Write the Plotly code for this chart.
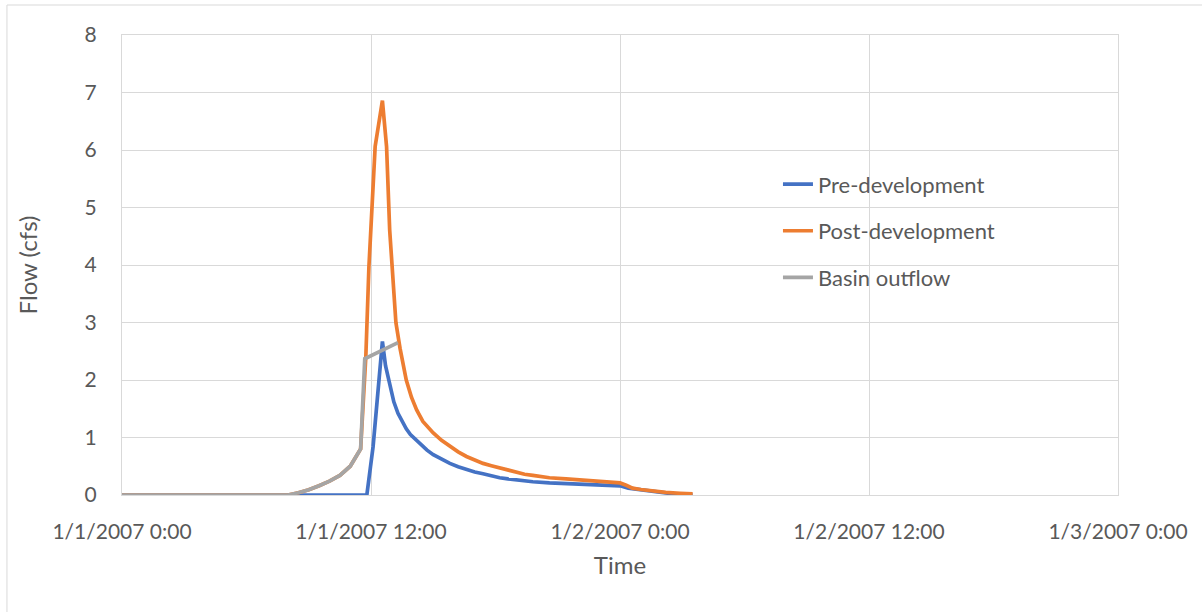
import pandas as pd
import plotly.graph_objects as go

START = pd.Timestamp("2007-01-01 00:00")

# Hydrograph ordinates: hours after start, flow in cfs
pre_hours = [0.0, 11.8, 12.1, 12.35, 12.55, 12.7, 12.9, 13.1, 13.3, 13.5, 13.7, 13.9,
             14.15, 14.4, 14.7, 15.0, 15.4, 15.8, 16.2, 16.6, 17.0, 17.4, 17.8, 18.2,
             18.6, 19.0, 19.4, 19.8, 20.6, 21.5, 22.4, 23.2, 24.0, 24.4, 24.96, 25.7,
             26.55, 27.5]
pre_flow = [0.0, 0.0, 0.84, 1.88, 2.67, 2.25, 1.9, 1.62, 1.42, 1.27, 1.15, 1.05,
            0.96, 0.88, 0.78, 0.70, 0.62, 0.55, 0.49, 0.44, 0.40, 0.37, 0.33, 0.30,
            0.28, 0.26, 0.245, 0.23, 0.21, 0.20, 0.19, 0.175, 0.16, 0.12, 0.09, 0.05,
            0.02, 0.0]

post_hours = [0.0, 8.0, 8.5, 9.0, 9.5, 10.0, 10.5, 11.0, 11.5, 11.75, 11.9, 12.2,
              12.55, 12.75, 12.9, 13.05, 13.2, 13.4, 13.7, 13.95, 14.2, 14.5, 15.0,
              15.4, 15.8, 16.2, 16.6, 17.0, 17.4, 17.8, 18.2, 18.6, 19.0, 19.4, 19.8,
              20.2, 20.6, 21.4, 22.2, 23.1, 24.0, 24.3, 24.6, 25.0, 25.5, 26.2, 26.9,
              27.5]
post_flow = [0.0, 0.0, 0.04, 0.09, 0.16, 0.24, 0.34, 0.50, 0.80, 2.4, 3.97, 6.06,
             6.86, 6.06, 4.61, 3.7, 3.0, 2.55, 2.0, 1.7, 1.48, 1.28, 1.08,
             0.95, 0.84, 0.75, 0.67, 0.61, 0.55, 0.51, 0.47, 0.43, 0.39, 0.36, 0.34,
             0.32, 0.30, 0.28, 0.26, 0.235, 0.21, 0.17, 0.12, 0.095, 0.07, 0.045, 0.03,
             0.02]

basin_hours = [0.0, 8.0, 8.5, 9.0, 9.5, 10.0, 10.5, 11.0, 11.5, 11.7, 13.3]
basin_flow = [0.0, 0.0, 0.04, 0.09, 0.16, 0.24, 0.34, 0.50, 0.80, 2.37, 2.65]

series = [
    ("Pre-development", pre_hours, pre_flow, "#4472C4"),
    ("Post-development", post_hours, post_flow, "#ED7D31"),
    ("Basin outflow", basin_hours, basin_flow, "#A5A5A5"),
]

tick_hours = [0, 12, 24, 36, 48]

FONT = "Lato, 'Open Sans', sans-serif"
TEXT = "#595959"
GRID = "#D9D9D9"

fig = go.Figure()
for i, (name, hrs, flow, color) in enumerate(series):
    times = [START + pd.Timedelta(hours=h) for h in hrs]
    fig.add_trace(go.Scatter(
        x=times, y=flow, mode="lines", name=name,
        legendgroup=f"g{i}",
        line=dict(color=color, width=3.7),
    ))

tick_vals = [START + pd.Timedelta(hours=h) for h in tick_hours]
tick_text = [f"{t.month}/{t.day}/{t.year} {t.hour}:{t.minute:02d}" for t in tick_vals]

fig.update_layout(
    width=1202, height=612,
    margin=dict(l=122, r=84, t=35, b=117),
    paper_bgcolor="white", plot_bgcolor="white",
    font=dict(family=FONT, size=21, color=TEXT),
    showlegend=True,
    legend=dict(
        x=0.6586, y=0.721, xanchor="left", yanchor="top",
        font=dict(family=FONT, size=22, color=TEXT),
        tracegroupgap=15, bgcolor="rgba(0,0,0,0)",
    ),
    xaxis=dict(
        range=[tick_vals[0], tick_vals[-1]],
        tickvals=tick_vals, ticktext=tick_text,
        showgrid=True, gridcolor=GRID, gridwidth=1,
        showline=True, linecolor=GRID, mirror=True,
        ticks="", ticklabelstandoff=18,
        zeroline=False,
        title=dict(text="Time", font=dict(family=FONT, size=24, color=TEXT), standoff=14),
    ),
    yaxis=dict(
        range=[0, 8], dtick=1, tick0=0,
        showgrid=True, gridcolor=GRID, gridwidth=1,
        showline=True, linecolor=GRID, mirror=True,
        ticks="", ticklabelstandoff=20,
        zeroline=False,
        title=dict(text="Flow (cfs)", font=dict(family=FONT, size=24, color=TEXT), standoff=40),
    ),
    shapes=[dict(
        type="rect", xref="paper", yref="paper",
        x0=-0.1155, x1=1.10, y0=-0.30, y1=1.0652,
        line=dict(color=GRID, width=1), fillcolor="rgba(0,0,0,0)", layer="below",
    )],
)

fig.write_html("out.html")
